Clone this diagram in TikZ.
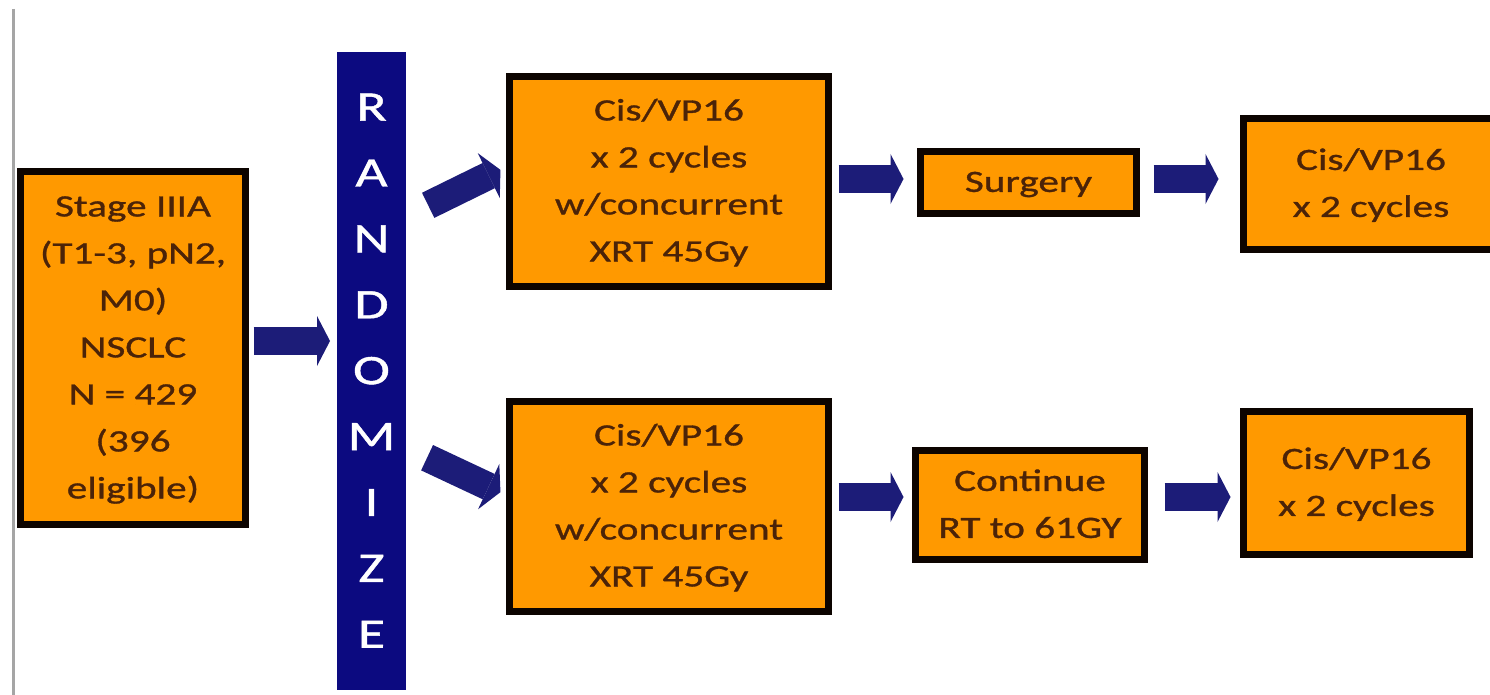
\documentclass[tikz,border=0pt]{standalone}
\usepackage{fontspec}
\setmainfont{Carlito}[FakeStretch=1.33]
\newfontfamily\boxfont{Carlito}[FakeStretch=1.33,FakeBold=1]
\usetikzlibrary{arrows.meta}
\definecolor{boxorange}{RGB}{255,153,0}
\definecolor{boxtext}{RGB}{75,35,8}
\definecolor{boxedge}{RGB}{12,4,0}
\definecolor{barnavy}{RGB}{12,10,128}
\definecolor{arrownavy}{RGB}{28,28,120}
\definecolor{rulegray}{RGB}{165,165,165}
% stacked, centred lines of a box label, set on struts
\newcommand\boxlines[1]{\raisebox{-5pt}{\begin{tabular}{@{}c@{}}#1\end{tabular}}}

\begin{document}
\begin{tikzpicture}[x=1pt,y=-1pt,
  stepbox/.style={draw=boxedge, line width=7pt, fill=boxorange, text=boxtext,
    inner sep=0pt, outer sep=0pt,
    font=\boxfont\fontsize{31}{47}\selectfont},
  randbar/.style={fill=barnavy, inner sep=0pt, outer sep=0pt, text=white,
    font=\boxfont\fontsize{42}{65.9}\selectfont},
  flow/.style={draw=arrownavy, line width=28pt,
    -{Triangle[length=13pt,width=50pt,line width=0pt]}},
]
\clip (0,0) rectangle (1490,695);
\fill[white] (0,0) rectangle (1490,695);
\draw[rulegray, line width=3pt] (13.5,9) -- (13.5,695);

% boxes
\node[stepbox, minimum width=225pt, minimum height=353pt] (stage) at (133,348)
  {\boxlines{Stage IIIA\\(T1-3, pN2,\\M0)\\NSCLC\\N = 429\\(396\\eligible)}};
\node[randbar, minimum width=69pt, minimum height=638pt] (bar) at (371.5,371)
  {\raisebox{-2pt}{\begin{tabular}{@{}c@{}}R\\A\\N\\D\\O\\M\\I\\Z\\E\end{tabular}}};
\node[stepbox, minimum width=319pt, minimum height=210pt] (rtop) at (669,181.5)
  {\boxlines{Cis/VP16\\x 2 cycles\\w/concurrent\\XRT 45Gy}};
\node[stepbox, minimum width=319pt, minimum height=210pt] (rbot) at (669,506.5)
  {\boxlines{Cis/VP16\\x 2 cycles\\w/concurrent\\XRT 45Gy}};
\node[stepbox, minimum width=216pt, minimum height=62pt] (surgery) at (1028.5,182.5)
  {\boxlines{Surgery}};
\node[stepbox, minimum width=229pt, minimum height=109pt] (cont) at (1030,505)
  {\boxlines{Continue\\RT to 61GY}};
\node[stepbox, minimum width=255pt, minimum height=131pt] (ctop) at (1371,184)
  {\boxlines{Cis/VP16\\x 2 cycles}};
\node[stepbox, minimum width=226pt, minimum height=143pt] (cbot) at (1356.5,483)
  {\boxlines{Cis/VP16\\x 2 cycles}};

% block arrows
\draw[flow, shorten <=8pt, shorten >=7pt] (stage.east |- 0,341) -- (bar.west |- 0,341);
\draw[flow, shorten <=24.7pt, shorten >=10.1pt] (bar.east |- 0,216.2) -- (rtop.west |- 0,165.4);
\draw[flow, shorten <=23.3pt, shorten >=10pt] (bar.east |- 0,447.8) -- (rbot.west |- 0,496.4);
\draw[flow, shorten <=10pt, shorten >=17pt] (rtop.east |- 0,179) -- (surgery.west |- 0,179);
\draw[flow, shorten <=17pt, shorten >=25pt] (surgery.east |- 0,179) -- (ctop.west |- 0,179);
\draw[flow, shorten <=10pt, shorten >=12pt] (rbot.east |- 0,497) -- (cont.west |- 0,497);
\draw[flow, shorten <=20pt, shorten >=13pt] (cont.east |- 0,497) -- (cbot.west |- 0,497);
\end{tikzpicture}
\end{document}
